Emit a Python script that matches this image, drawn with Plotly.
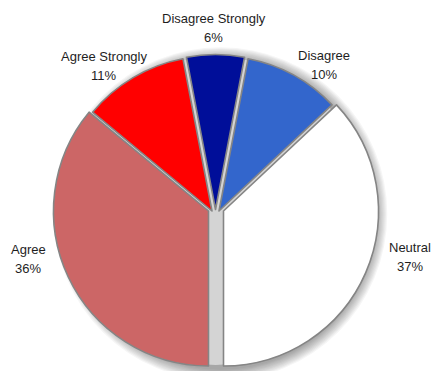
import math
import plotly.graph_objects as go

# Survey responses (percent of respondents), listed clockwise from the top
labels = ["Disagree Strongly", "Disagree", "Neutral", "Agree", "Agree Strongly"]
values = [6, 10, 37, 36, 11]
colors = ["#000E99", "#3366CC", "#FFFFFF", "#CC6666", "#FF0000"]

# how far each slice is moved out of the pie, in px (right, down)
explode = {
    "Disagree Strongly": (0, -1.5),
    "Disagree": (3.5, 0),
    "Neutral": (8, 0),
    "Agree": (-7, 0),
    "Agree Strongly": (-3.5, 0),
}

# label placement around the pie: (angle offset from slice middle in degrees, distance in px)
label_place = {
    "Disagree Strongly": (-0.5, 183),
    "Disagree": (7.7, 181.6),
    "Neutral": (-10.0, 200),
    "Agree": (10.8, 193.5),
    "Agree Strongly": (-7.0, 183),
}

W, H = 433, 371
cx, cy_top, R = 215.5, 211, 155   # pie centre (px from left / top) and radius (px)
FONT = "Liberation Sans, Arial, sans-serif"

total = sum(values)
# first slice centred on 12 o'clock
rotation = -values[0] / total * 360 / 2


def domain_at(x, y, r):
    """Pie domain (paper units) for a circle of radius r centred at pixel (x, y)."""
    return dict(x=[(x - r) / W, (x + r) / W], y=[1 - (y + r) / H, 1 - (y - r) / H])


fig = go.Figure()

# soft drop shadow, offset down-right
sx, sy = cx + 5, cy_top + 3
for k in range(10):
    rr = R + 1 + k * 1.2
    fig.add_shape(type="circle", xref="paper", yref="paper", layer="below",
                  x0=(sx - rr) / W, x1=(sx + rr) / W,
                  y0=1 - (sy + rr) / H, y1=1 - (sy - rr) / H,
                  fillcolor="rgba(0,0,0,0.04)", line=dict(width=0))

# grey body visible through the gaps between the separated slices
fig.add_trace(go.Pie(
    values=[1], labels=[""], sort=False,
    marker=dict(colors=["#D4D4D4"], line=dict(width=0)),
    textinfo="none", hoverinfo="skip", showlegend=False,
    domain=domain_at(cx, cy_top, R - 1),
))

# each slice drawn from the full pie, shown only for its own category
for j, lab in enumerate(labels):
    dx, dy = explode[lab]
    fig.add_trace(go.Pie(
        labels=labels, values=values, sort=False, direction="clockwise",
        rotation=rotation, name=lab,
        marker=dict(
            colors=[c if i == j else "rgba(0,0,0,0)" for i, c in enumerate(colors)],
            line=dict(color="#858585", width=[1.6 if i == j else 0 for i in range(len(labels))]),
        ),
        textinfo="none", hoverinfo="label+percent", showlegend=False,
        domain=domain_at(cx + dx, cy_top + dy, R),
    ))

# two-line labels (name, percentage) outside each slice
start = rotation
for lab, v in zip(labels, values):
    span = v / total * 360
    mid = start + span / 2
    start += span
    dang, dist = label_place[lab]
    a = math.radians(mid + dang)
    px = cx + dist * math.sin(a)
    py = cy_top - dist * math.cos(a)
    for text, off in ((lab, -9.5), (f"{v / total * 100:.0f}%", 9.5)):
        fig.add_annotation(
            x=px / W, y=1 - (py + off) / H, xref="paper", yref="paper",
            text=text, showarrow=False, xanchor="center", yanchor="middle",
            font=dict(family=FONT, size=13, color="#1E1E1E"),
        )

fig.update_layout(
    width=W, height=H,
    margin=dict(l=0, r=0, t=0, b=0),
    paper_bgcolor="white", plot_bgcolor="white",
    showlegend=False,
)

fig.write_html("out.html")
